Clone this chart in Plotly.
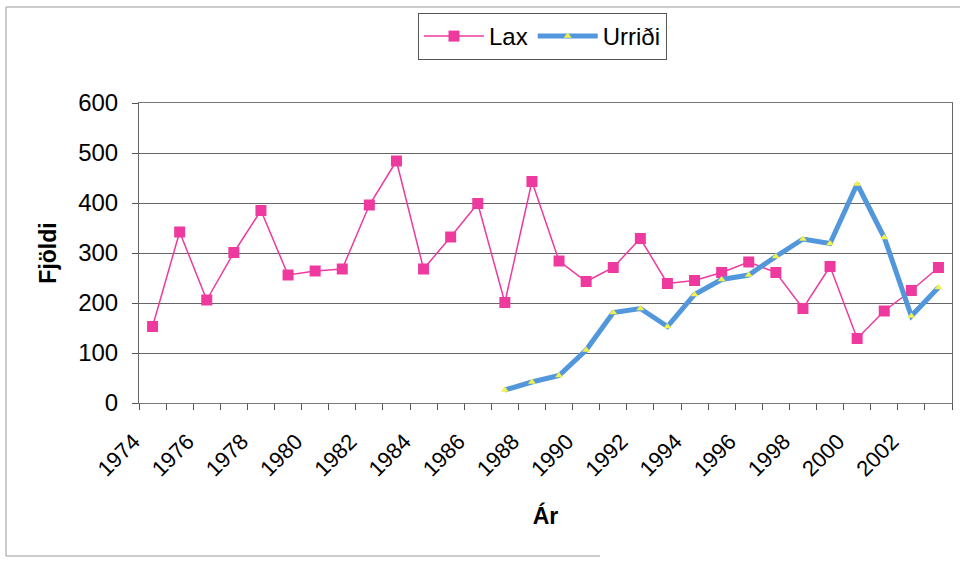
import plotly.graph_objects as go

years = list(range(1974, 2004))
lax = [153, 342, 206, 301, 385, 256, 264, 268, 396, 484, 268, 332, 399, 201, 443,
       284, 243, 271, 329, 239, 245, 261, 282, 261, 189, 273, 129, 184, 225, 271]
urridi = [None] * 13 + [26, 42, 55, 106, 181, 189, 153, 217, 247, 256, 293, 328,
                        319, 438, 331, 174, 231]
tick_years = list(range(1974, 2003, 2))

FONT = "Liberation Sans, Arial, sans-serif"

fig = go.Figure()
fig.add_trace(go.Scatter(
    x=years, y=lax, name="Lax", mode="lines+markers",
    line=dict(color="#ee3a9e", width=1.5),
    marker=dict(symbol="square", size=11, color="#ee3a9e"),
))
fig.add_trace(go.Scatter(
    x=years, y=urridi, name="Urriði", mode="lines+markers",
    line=dict(color="#5296dc", width=5),
    marker=dict(symbol="triangle-up", size=7, color="#f2f04a"),
))

L, R, T, B = 139, 13, 103, 159
W, H = 965, 562
pw, ph = W - L - R, H - T - B

def px(x):
    return (x - L) / pw

def py(y):
    return (H - B - y) / ph

fig.update_layout(
    width=W, height=H,
    margin=dict(l=L, r=R, t=T, b=B, autoexpand=False),
    paper_bgcolor="white", plot_bgcolor="white",
    font=dict(family=FONT, size=22, color="black"),
    showlegend=True,
    legend=dict(
        orientation="h", x=px(418), y=py(13), xanchor="left", yanchor="top",
        bordercolor="#555", borderwidth=1, bgcolor="white",
        font=dict(family=FONT, size=24), itemwidth=60,
    ),
    xaxis=dict(
        range=[1973.5, 2003.5], tickmode="array", tickvals=tick_years,
        ticktext=[str(y) for y in tick_years], tickangle=-45,
        ticks="", showgrid=False, showline=True, linecolor="#777",
        linewidth=1, mirror=True, zeroline=False,
        tickfont=dict(family=FONT, size=22),
        ticklabelshift=-19, ticklabelstandoff=16,
        minor=dict(tick0=1973.5, dtick=1, ticks="outside", ticklen=6,
                   tickcolor="#555", showgrid=False),
        title=dict(text="<b>Ár</b>", font=dict(family=FONT, size=23), standoff=27),
    ),
    yaxis=dict(
        range=[0, 600], dtick=100, ticks="outside", ticklen=6, tickcolor="#555",
        showgrid=True, gridcolor="#666", gridwidth=1,
        showline=True, linecolor="#666", linewidth=1, mirror=True,
        zeroline=False, tickfont=dict(family=FONT, size=24),
        ticklabelstandoff=9,
        title=dict(text="<b>Fjöldi</b>", font=dict(family=FONT, size=23), standoff=15),
    ),
    shapes=[
        dict(type="line", xref="paper", yref="paper", x0=px(6), x1=px(960),
             y0=py(7), y1=py(7), line=dict(color="#999", width=1)),
        dict(type="line", xref="paper", yref="paper", x0=px(6), x1=px(6),
             y0=py(7), y1=py(556), line=dict(color="#999", width=1)),
        dict(type="line", xref="paper", yref="paper", x0=px(6), x1=px(600),
             y0=py(556), y1=py(556), line=dict(color="#999", width=1)),
    ],
)

fig.write_html("out.html", config={"displayModeBar": False},
               post_script="document.body.style.margin='0';")
